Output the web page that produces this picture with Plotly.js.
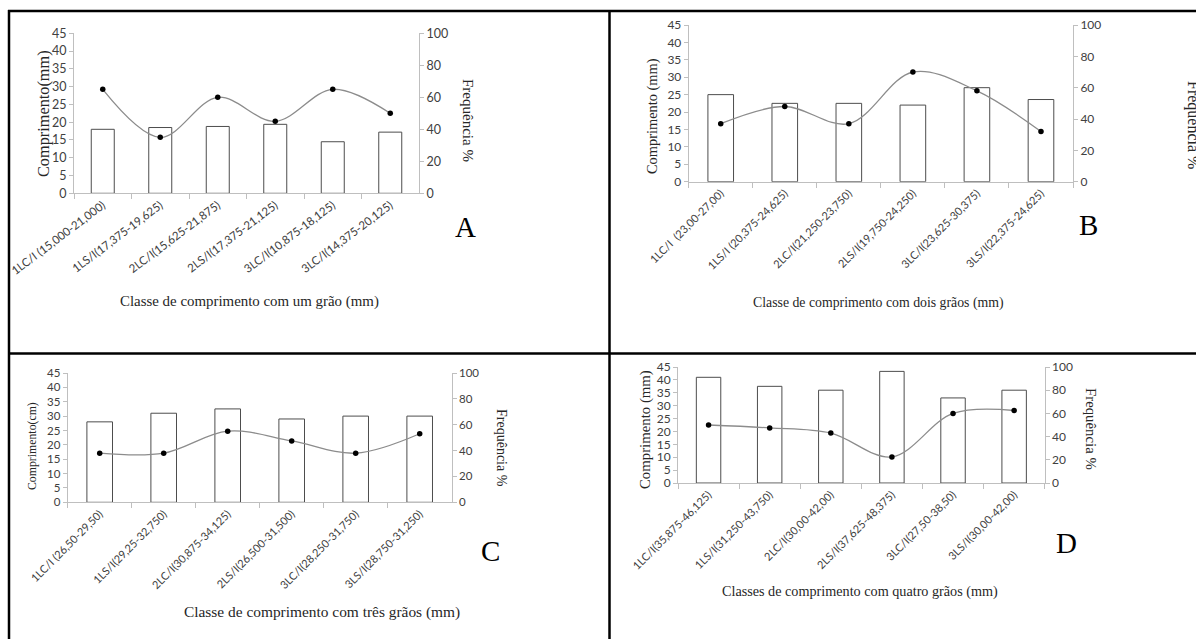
<!DOCTYPE html>
<html>
<head>
<meta charset="utf-8">
<script src="https://cdn.plot.ly/plotly-3.0.1.min.js"></script>
<style>
html,body{margin:0;padding:0;background:#fff;}
#chart{width:1196px;height:639px;}
</style>
</head>
<body>
<div id="chart"></div>
<script>
// ---- Panel A: um grão ----
const catsA = ["1LC/I (15,000-21,000)", "1LS/I(17,375-19,625)", "2LC/I(15,625-21,875)", "2LS/I(17,375-21,125)", "3LC/I(10,875-18,125)", "3LC/I(14,375-20,125)"];
const compA = [18.0, 18.5, 18.8, 19.4, 14.5, 17.2];
const freqA = [65, 35, 60, 45, 65, 50];

// ---- Panel B: dois grãos ----
const catsB = ["1LC/I  (23,00-27,00)", "1LS/I (20,375-24,625)", "2LC/I(21,250-23,750)", "2LS/I(19,750-24,250)", "3LC/I(23,625-30,375)", "3LS/I(22,375-24,625)"];
const compB = [25.0, 22.5, 22.5, 22.0, 27.0, 23.6];
const freqB = [37, 48, 37, 70, 58, 32];

// ---- Panel C: três grãos ----
const catsC = ["1LC/I (26,50-29,50)", "1LS/I(29,25-32,750)", "2LC/I(30,875-34,125)", "2LS/I(26,500-31,500)", "3LC/I(28,250-31,750)", "3LS/I(28,750-31,250)"];
const compC = [28.0, 31.0, 32.5, 29.0, 30.0, 30.0];
const freqC = [38, 38, 55, 47.5, 38, 53];

// ---- Panel D: quatro grãos ----
const catsD = ["1LC/I(35,875-46,125)", "1LS/I(31,250-43,750)", "2LC/I(30,00-42,00)", "2LS/I(37,625-48,375)", "3LC/I(27,50-38,50)", "3LS/I(30,00-42,00)"];
const compD = [41.0, 37.5, 36.0, 43.3, 33.0, 36.0];
const freqD = [50, 47.5, 43, 22.5, 60, 62.5];

const yTitles = ["Comprimento(mm)", "Comprimento (mm)", "Comprimento(cm)", "Comprimento (mm)"];
const y2Title = "Frequência %";
const xTitles = ["Classe de comprimento com um grão (mm)", "Classe de comprimento com dois grãos (mm)", "Classe de comprimento com três grãos (mm)", "Classes de comprimento com quatro grãos (mm)"];
const letters = ["A", "B", "C", "D"];

const W = 1196, H = 639;
const px = v => v / W;
const py = v => 1 - v / H;

const panels = [
  {cats: catsA, comp: compA, freq: freqA, x0: 74, x1: 419, yb: 193.3, yt: 33.3, angle: -37, tf: 12.5, cf: 11.5,
   yt_pos: [43, 113, 16.3], y2_pos: [468, 120, 15], xt_pos: [249, 302, 14.9], let_pos: [465, 227]},
  {cats: catsB, comp: compB, freq: freqB, x0: 688.7, x1: 1073, yb: 181.7, yt: 25, angle: -45, tf: 12, cf: 11,
   yt_pos: [653, 116, 14.4], y2_pos: [1193, 125, 16], xt_pos: [878, 303, 13.8], let_pos: [1088, 225]},
  {cats: catsC, comp: compC, freq: freqC, x0: 67.7, x1: 451.7, yb: 502.3, yt: 373, angle: -45, tf: 11.5, cf: 11,
   yt_pos: [32, 446, 11.8], y2_pos: [502, 448, 14], xt_pos: [322, 612, 15.4], let_pos: [490, 551]},
  {cats: catsD, comp: compD, freq: freqD, x0: 678, x1: 1044.7, yb: 483, yt: 367, angle: -45, tf: 12, cf: 11,
   yt_pos: [645, 430, 14.8], y2_pos: [1091, 429, 14.8], xt_pos: [860, 591, 14.2], let_pos: [1066, 543]}
];

const axisGray = '#bfbfbf';
const tickFontFam = 'Lato, Liberation Sans, sans-serif';
const serif = 'Liberation Serif, DejaVu Serif, serif';

const data = [];
const layout = {
  width: W, height: H,
  margin: {l: 0, r: 0, t: 0, b: 0},
  paper_bgcolor: '#fff', plot_bgcolor: 'rgba(0,0,0,0)',
  showlegend: false,
  annotations: [],
  shapes: []
};

panels.forEach((p, i) => {
  const xn = i === 0 ? 'x' : 'x' + (i + 1);
  const yn = 'y' + (2 * i + 1 === 1 ? '' : 2 * i + 1);
  const y2n = 'y' + (2 * i + 2);
  const xKey = 'xaxis' + (i === 0 ? '' : i + 1);
  const yKey = 'yaxis' + (2 * i + 1 === 1 ? '' : 2 * i + 1);
  const y2Key = 'yaxis' + (2 * i + 2);

  data.push({
    type: 'bar', x: p.cats, y: p.comp, xaxis: xn, yaxis: yn,
    width: 0.4,
    marker: {color: '#ffffff', line: {color: '#4d4d4d', width: 1}},
    hoverinfo: 'skip'
  });
  data.push({
    type: 'scatter', mode: 'lines+markers', x: p.cats, y: p.freq, xaxis: xn, yaxis: y2n,
    line: {shape: 'spline', smoothing: 1, color: '#8c8c8c', width: 1.3},
    marker: {color: '#000000', size: 5.5},
    hoverinfo: 'skip'
  });

  layout[xKey] = {
    domain: [px(p.x0), px(p.x1)], anchor: yn, type: 'category',
    categoryorder: 'array', categoryarray: p.cats,
    showline: true, linecolor: axisGray, linewidth: 1,
    ticks: 'outside', tickson: 'boundaries', ticklen: 5, tickcolor: axisGray,
    tickangle: p.angle, tickfont: {family: tickFontFam, size: p.cf, color: '#404040'},
    showgrid: false, zeroline: false, fixedrange: true, automargin: false
  };
  layout[yKey] = {
    domain: [py(p.yb), py(p.yt)], anchor: xn, range: [0, 45], dtick: 5,
    showline: true, linecolor: axisGray, linewidth: 1,
    ticks: 'outside', ticklen: 4, tickcolor: axisGray,
    tickfont: {family: tickFontFam, size: p.tf, color: '#404040'},
    showgrid: false, zeroline: false, fixedrange: true, automargin: false
  };
  layout[y2Key] = {
    overlaying: yn, side: 'right', anchor: xn, range: [0, 100], dtick: 20,
    showline: true, linecolor: axisGray, linewidth: 1,
    ticks: 'outside', ticklen: 4, tickcolor: axisGray,
    tickfont: {family: tickFontFam, size: p.tf, color: '#404040'},
    showgrid: false, zeroline: false, fixedrange: true, automargin: false
  };

  layout.annotations.push({
    xref: 'paper', yref: 'paper', x: px(p.yt_pos[0]), y: py(p.yt_pos[1]),
    text: yTitles[i], showarrow: false, textangle: -90,
    xanchor: 'center', yanchor: 'middle',
    font: {family: serif, size: p.yt_pos[2], color: '#262626'}
  });
  layout.annotations.push({
    xref: 'paper', yref: 'paper', x: px(p.y2_pos[0]), y: py(p.y2_pos[1]),
    text: y2Title, showarrow: false, textangle: 90,
    xanchor: 'center', yanchor: 'middle',
    font: {family: serif, size: p.y2_pos[2], color: '#262626'}
  });
  layout.annotations.push({
    xref: 'paper', yref: 'paper', x: px(p.xt_pos[0]), y: py(p.xt_pos[1]),
    text: xTitles[i], showarrow: false,
    xanchor: 'center', yanchor: 'middle',
    font: {family: serif, size: p.xt_pos[2], color: '#262626'}
  });
  layout.annotations.push({
    xref: 'paper', yref: 'paper', x: px(p.let_pos[0]), y: py(p.let_pos[1]),
    text: letters[i], showarrow: false,
    xanchor: 'center', yanchor: 'middle',
    font: {family: serif, size: 29, color: '#000000'}
  });
});

// Panel frame lines
const frame = [
  [8, 11, 1196, 11],
  [9, 10, 9, 639],
  [609.5, 10, 609.5, 639],
  [8, 353.5, 1196, 353.5]
];
frame.forEach(f => {
  layout.shapes.push({
    type: 'line', xref: 'paper', yref: 'paper',
    x0: px(f[0]), y0: py(f[1]), x1: px(f[2]), y1: py(f[3]),
    line: {color: '#000000', width: 2.5}
  });
});

Plotly.newPlot('chart', data, layout, {staticPlot: true, displayModeBar: false});
</script>
</body>
</html>
